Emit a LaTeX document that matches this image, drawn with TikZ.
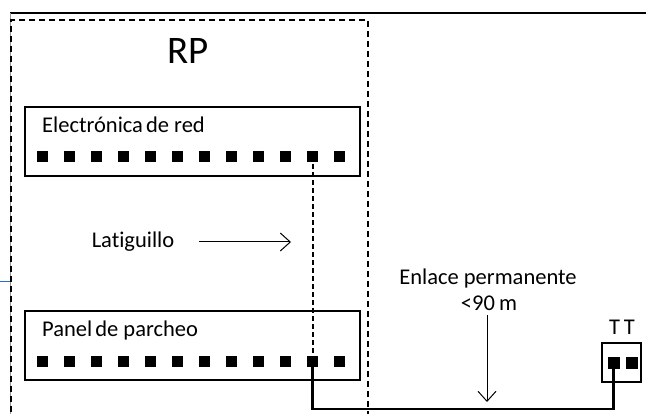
\documentclass[tikz,border=0pt]{standalone}
\usepackage{fontspec}
\setmainfont{Carlito}[Ligatures=NoCommon]
\usepackage{tikz}
\usetikzlibrary{positioning,arrows.meta,calc}
\definecolor{marco}{RGB}{150,150,150}
\definecolor{azulborde}{RGB}{40,110,200}
\tikzset{
  caja/.style   ={draw=black, line width=1.2pt, minimum width=335pt, minimum height=69pt, inner sep=0pt},
  rack/.style   ={draw=black, dash pattern=on 6pt off 4pt, line width=1.2pt, minimum width=357pt,
                  minimum height=440pt, inner sep=0pt},
  port/.style   ={fill=black, minimum size=11pt, inner sep=0pt},
  txt/.style    ={font=\fontsize{22.5}{26}\selectfont, inner sep=0pt, anchor=base},
  txtw/.style   ={txt, anchor=base west},
  flecha/.style ={-{Straight Barb[length=10pt,width=18pt]}, line width=1pt},
  latig/.style  ={dash pattern=on 5pt off 3pt, line width=2pt},
  enlace/.style ={line width=2.2pt},
}

\begin{document}
\begin{tikzpicture}[x=1pt,y=-1pt]
\useasboundingbox (0,0) rectangle (646,414);
\clip (0,0) rectangle (646,414);
\draw[line width=1.3pt] (10,13) -- (646,13);
\draw[marco, line width=1pt] (10,13) -- (10,414);
\draw[azulborde, line width=1pt] (0,282) -- (10,282);

\node[rack] (rp) at (189.5,240) {};
\node[txt,font=\fontsize{39}{44}\selectfont] (rptxt) at (188,64) {RP};

\node[caja] (er) at (192.5,141.5) {};
\node[txtw] (ertxt) at (42,133) {Electrónica\hspace{-2pt} de red};
\node[caja] (pp) at (192.5,345.5) {};
\node[txtw] (pptxt) at (42,337) {Panel\hspace{-2pt} de parcheo};
\foreach \i in {1,...,12}{
  \node[port] (er\i) at ({42.5+27*(\i-1)},156.5) {};
  \node[port] (pp\i) at ({42.5+27*(\i-1)},362) {};
}

\node[draw=black, line width=1.2pt, minimum width=39pt, minimum height=39pt, inner sep=0pt] (tt) at (621.5,362.5) {};
\node[txt] (tttxt) at (622,335) {T\,T};
\node[port,minimum size=12pt] (tt1) at (613.5,363) {};
\node[port,minimum size=12pt] (tt2) at (631.5,363) {};

\node[txt] (lat) at (133,248) {Latiguillo};
\coordinate (latfin) at (291,242);
\draw[flecha] ([xshift=25pt,yshift=6pt]lat.base east) -- (latfin);

\node[txt] (enl) at (488,285) {Enlace permanente};
\node[txt] (dist) at (489,311) {<90\hspace{-1pt} m};
\coordinate (enlfin) at (487,402);
\draw[flecha] ([yshift=-4pt]dist.south -| enlfin) -- (enlfin);

\coordinate (base) at (0,409);
\draw[latig] (er11.center) -- (pp11.center);
\draw[enlace] (pp11.center) |- (tt1 |- base) -- (tt1.center);
\end{tikzpicture}
\end{document}
